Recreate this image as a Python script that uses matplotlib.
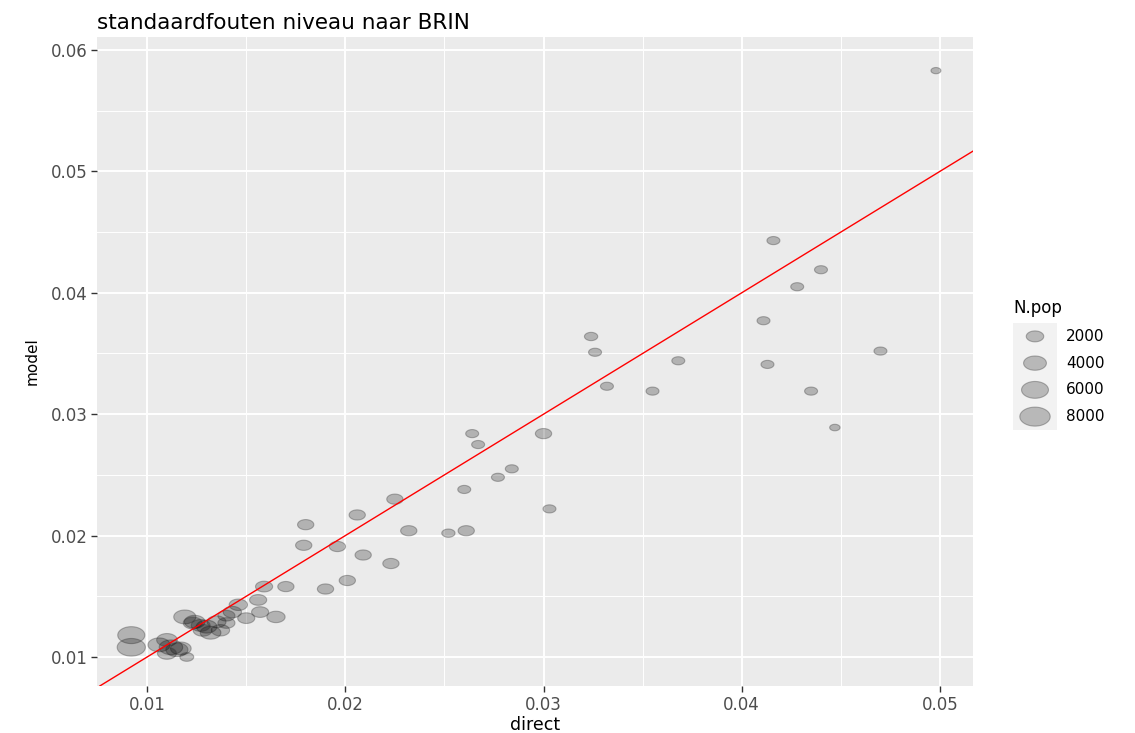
import matplotlib.pyplot as plt
import numpy as np
from matplotlib.path import Path
from matplotlib.ticker import MultipleLocator

# standaardfouten per BRIN: direct vs model, grootte = N.pop
direct = [0.0498, 0.0416, 0.0440, 0.0428, 0.0411, 0.0413, 0.0470, 0.0435, 0.0447,
          0.0324, 0.0326, 0.0332, 0.0355, 0.0368, 0.0300, 0.0264, 0.0267, 0.0284,
          0.0277, 0.0260, 0.0303, 0.0261, 0.0252, 0.0225, 0.0232, 0.0206, 0.0180,
          0.0179, 0.0196, 0.0209, 0.0223, 0.0190, 0.0201, 0.0170, 0.0159, 0.0165,
          0.0156, 0.0146, 0.0143, 0.0150, 0.0140, 0.0119, 0.0124, 0.0130, 0.0135,
          0.0132, 0.0092, 0.0092, 0.0106, 0.0112, 0.0117, 0.0110, 0.0115, 0.0120,
          0.0127, 0.0110, 0.0137, 0.0140, 0.0157, 0.0123, 0.0128]
model = [0.0583, 0.0443, 0.0419, 0.0405, 0.0377, 0.0341, 0.0352, 0.0319, 0.0289,
         0.0364, 0.0351, 0.0323, 0.0319, 0.0344, 0.0284, 0.0284, 0.0275, 0.0255,
         0.0248, 0.0238, 0.0222, 0.0204, 0.0202, 0.0230, 0.0204, 0.0217, 0.0209,
         0.0192, 0.0191, 0.0184, 0.0177, 0.0156, 0.0163, 0.0158, 0.0158, 0.0133,
         0.0147, 0.0143, 0.0137, 0.0132, 0.0134, 0.0133, 0.0129, 0.0125, 0.0129,
         0.0120, 0.0118, 0.0108, 0.0110, 0.0108, 0.0107, 0.0114, 0.0106, 0.0100,
         0.0126, 0.0103, 0.0122, 0.0128, 0.0137, 0.0128, 0.0122]
n_pop = [250, 650, 650, 650, 650, 650, 650, 650, 300,
         700, 650, 650, 650, 650, 1300, 650, 650, 650,
         650, 650, 650, 1300, 700, 1300, 1300, 1300, 1300,
         1300, 1300, 1300, 1300, 1300, 1300, 1300, 1500, 1800,
         1500, 1800, 1800, 1500, 1500, 3000, 2500, 2500, 2000,
         2500, 5000, 5500, 3000, 3500, 2500, 2500, 3000, 800,
         2000, 2000, 1800, 1500, 1500, 2000, 2000]
legend_sizes = [2000, 4000, 6000, 8000]

# liggende ellips als marker (beeld is horizontaal uitgerekt)
t = np.linspace(0, 2 * np.pi, 60)
ellipse = Path(np.column_stack([1.6 * np.cos(t), np.sin(t)]), closed=True)


def marker_area(n):
    w_px = 5 + 0.313 * np.sqrt(np.asarray(n, dtype=float))
    return (0.72 * w_px) ** 2


fig = plt.figure(figsize=(11.35, 7.33), dpi=100)
ax = fig.add_axes([97 / 1135, 1 - 686 / 733, 876 / 1135, 649 / 733])
ax.set_facecolor('#ebebeb')
for s in ax.spines.values():
    s.set_visible(False)

ax.scatter(direct, model, s=marker_area(n_pop), marker=ellipse,
           facecolor=(0, 0, 0, 0.24), edgecolor=(0.2, 0.2, 0.2, 0.35),
           linewidth=0.8, zorder=3)
ax.axline((0.01, 0.01), slope=1, color='red', lw=1, zorder=4)

ax.set_xlim(0.00747, 0.05167)
ax.set_ylim(0.00761, 0.06107)
ax.xaxis.set_major_locator(MultipleLocator(0.01))
ax.xaxis.set_minor_locator(MultipleLocator(0.005))
ax.yaxis.set_major_locator(MultipleLocator(0.01))
ax.yaxis.set_minor_locator(MultipleLocator(0.005))
ax.grid(which='major', color='white', lw=1.4, zorder=0)
ax.grid(which='minor', color='white', lw=0.7, zorder=0)
ax.set_axisbelow(True)
ax.tick_params(which='major', length=4, width=1, color='#333333',
               labelsize=12, labelcolor='#4d4d4d', pad=3)
ax.tick_params(which='minor', length=0)
ax.xaxis.set_major_formatter(plt.FuncFormatter(lambda v, p: f'{v:.2f}'))
ax.yaxis.set_major_formatter(plt.FuncFormatter(lambda v, p: f'{v:.2f}'))

ax.set_xlabel('direct', fontsize=12.5, labelpad=2)
ax.set_ylabel('model', fontsize=11, labelpad=8)
ax.set_title('standaardfouten niveau naar BRIN', loc='left', fontsize=15.5, pad=6)

# legenda
fig.text(1013 / 1135, 1 - 308 / 733, 'N.pop', fontsize=12, va='center', ha='left')
lax = fig.add_axes([1013 / 1135, 1 - 430 / 733, 44 / 1135, 107 / 733])
lax.set_facecolor('#f2f2f2')
for s in lax.spines.values():
    s.set_visible(False)
lax.set_xticks([])
lax.set_yticks([])
lax.set_xlim(0, 1)
lax.set_ylim(0, 4)
ys = [3.5, 2.5, 1.5, 0.5]
lax.scatter([0.5] * 4, ys, s=marker_area(legend_sizes) * 0.85, marker=ellipse,
            facecolor=(0, 0, 0, 0.24), edgecolor=(0.2, 0.2, 0.2, 0.35), linewidth=0.8)
for y, lab in zip(ys, legend_sizes):
    lax.text(1.2, y, str(lab), fontsize=11, va='center', ha='left', clip_on=False)

fig.savefig('out.png', dpi=100)
